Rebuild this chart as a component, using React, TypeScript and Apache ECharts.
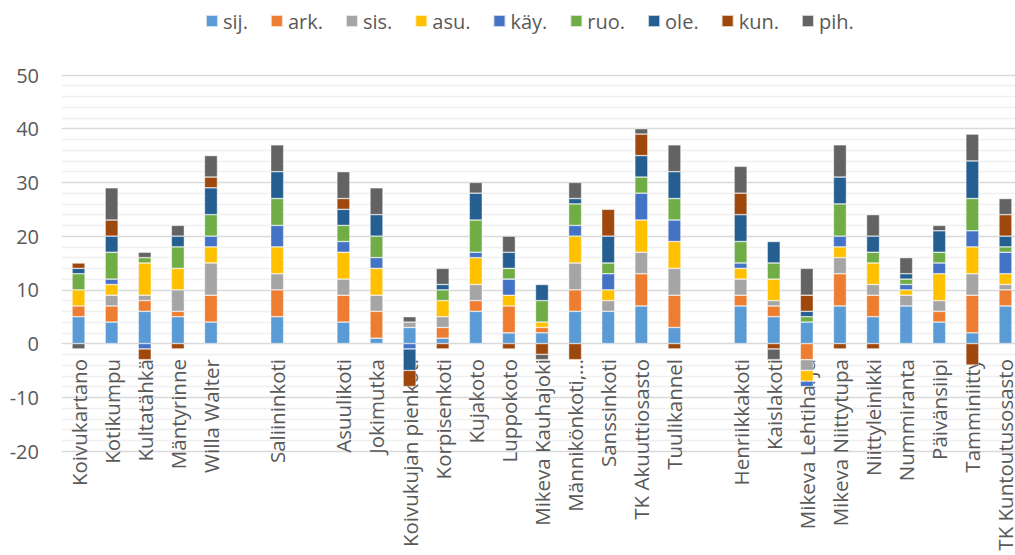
import React, { useEffect, useRef } from "react";
import * as echarts from "echarts";

const categories = [
  "Koivukartano", "Kotikumpu", "Kultatähkä", "Mäntyrinne", "Willa Walter", "",
  "Saliininkoti", "", "Asuulikoti", "Jokimutka", "Koivukujan pienkoti", "Korpisenkoti",
  "Kujakoto", "Luppokoto", "Mikeva Kauhajoki", "Männikönkoti,…", "Sanssinkoti",
  "TK Akuuttiosasto", "Tuulikannel", "", "Henriikkakoti", "Kaislakoti",
  "Mikeva Lehtiharju", "Mikeva Niittytupa", "Niittyleinikki", "Nummiranta",
  "Päivänsiipi", "Tamminiitty", "TK Kuntoutusosasto",
];

const seriesNames = ["sij.", "ark.", "sis.", "asu.", "käy.", "ruo.", "ole.", "kun.", "pih."];
const seriesColors = ["#5B9BD5", "#ED7D31", "#A5A5A5", "#FFC000", "#4472C4", "#70AD47", "#255E91", "#9E480E", "#636363"];

const sij = [5, 4, 6, 5, 4, null, 5, null, 4, 1, 3, 1, 6, 2, 2, 6, 6, 7, 3, null, 7, 5, 4, 7, 5, 7, 4, 2, 7];
const ark = [2, 3, 2, 1, 5, null, 5, null, 5, 5, 0, 2, 2, 5, 1, 4, 0, 6, 6, null, 2, 2, -3, 6, 4, 0, 2, 7, 3];
const sis = [0, 2, 1, 4, 6, null, 3, null, 3, 3, 1, 2, 3, 0, 0, 5, 2, 4, 5, null, 3, 1, -2, 3, 2, 2, 2, 4, 1];
const asu = [3, 2, 6, 4, 3, null, 5, null, 5, 5, 0, 3, 5, 2, 1, 5, 2, 6, 5, null, 2, 4, -2, 2, 4, 1, 5, 5, 2];
const kay = [0, 1, -1, 0, 2, null, 4, null, 2, 2, -1, 0, 1, 3, 0, 2, 3, 5, 4, null, 1, 0, -1, 2, 0, 1, 2, 3, 4];
const ruo = [3, 5, 1, 4, 4, null, 5, null, 3, 4, 0, 2, 6, 2, 4, 4, 2, 3, 4, null, 4, 3, 1, 6, 2, 1, 2, 6, 1];
const ole = [1, 3, 0, 2, 5, null, 5, null, 3, 4, -4, 1, 5, 3, 3, 1, 5, 4, 5, null, 5, 4, 1, 5, 3, 1, 4, 7, 2];
const kun = [1, 3, -2, -1, 2, null, 0, null, 2, 0, -3, -1, 0, -1, -2, -3, 5, 4, -1, null, 4, -1, 3, -1, -1, 0, 0, -4, 4];
const pih = [-1, 6, 1, 2, 4, null, 5, null, 5, 5, 1, 3, 2, 3, -1, 3, 0, 1, 5, null, 5, -2, 5, 6, 4, 3, 1, 5, 3];

const seriesValues = [sij, ark, sis, asu, kay, ruo, ole, kun, pih];

const yTicks = { min: -20, max: 50, interval: 10 };

const FONT = "'Open Sans', 'Noto Sans', sans-serif";
const TEXT = "#595959";

export default function App() {
  const ref = useRef<HTMLDivElement>(null);
  useEffect(() => {
    if (!ref.current) return;
    const chart = echarts.init(ref.current, undefined, { renderer: "svg" });
    chart.setOption({
      animation: false,
      textStyle: { fontFamily: FONT },
      legend: {
        top: 6,
        left: 200,
        itemWidth: 12,
        itemHeight: 12,
        itemGap: 22,
        icon: "rect",
        textStyle: { fontSize: 20, color: TEXT, fontFamily: FONT },
        data: seriesNames,
      },
      grid: {
        left: 62,
        right: -7,
        top: 75,
        bottom: 104,
        containLabel: false,
        outerBoundsMode: "none",
      },
      xAxis: {
        type: "category",
        data: categories,
        offset: -108,
        axisLine: { show: true, onZero: false, lineStyle: { color: "#D9D9D9", width: 1 } },
        axisTick: { show: false },
        axisLabel: {
          rotate: 90,
          interval: 0,
          margin: 16,
          fontSize: 20.5,
          color: TEXT,
          fontFamily: FONT,
        },
        splitLine: { show: false },
      },
      yAxis: {
        type: "value",
        min: yTicks.min,
        max: yTicks.max,
        interval: yTicks.interval,
        axisLine: { show: false },
        axisTick: { show: false },
        axisLabel: { fontSize: 20, color: TEXT, margin: 23, fontFamily: FONT },
        splitLine: { show: true, lineStyle: { color: "#D9D9D9", width: 1.3 } },
        minorTick: { show: false, splitNumber: 5 },
        minorSplitLine: { show: true, lineStyle: { color: "#F0F0F0", width: 1.3 } },
      },
      series: seriesNames.map((name, i) => ({
        name,
        type: "bar",
        stack: "total",
        barWidth: 13,
        z: 5,
        itemStyle: {
          color: seriesColors[i],
          borderColor: "rgba(255,255,255,0.7)",
          borderWidth: 0.6,
        },
        data: seriesValues[i].map((v) => (v === 0 ? null : v)),
      })),
    });
    return () => chart.dispose();
  }, []);
  return (
    <div
      ref={ref}
      style={{ position: "absolute", left: 0, top: 0, width: 1015, height: 555 }}
    />
  );
}
